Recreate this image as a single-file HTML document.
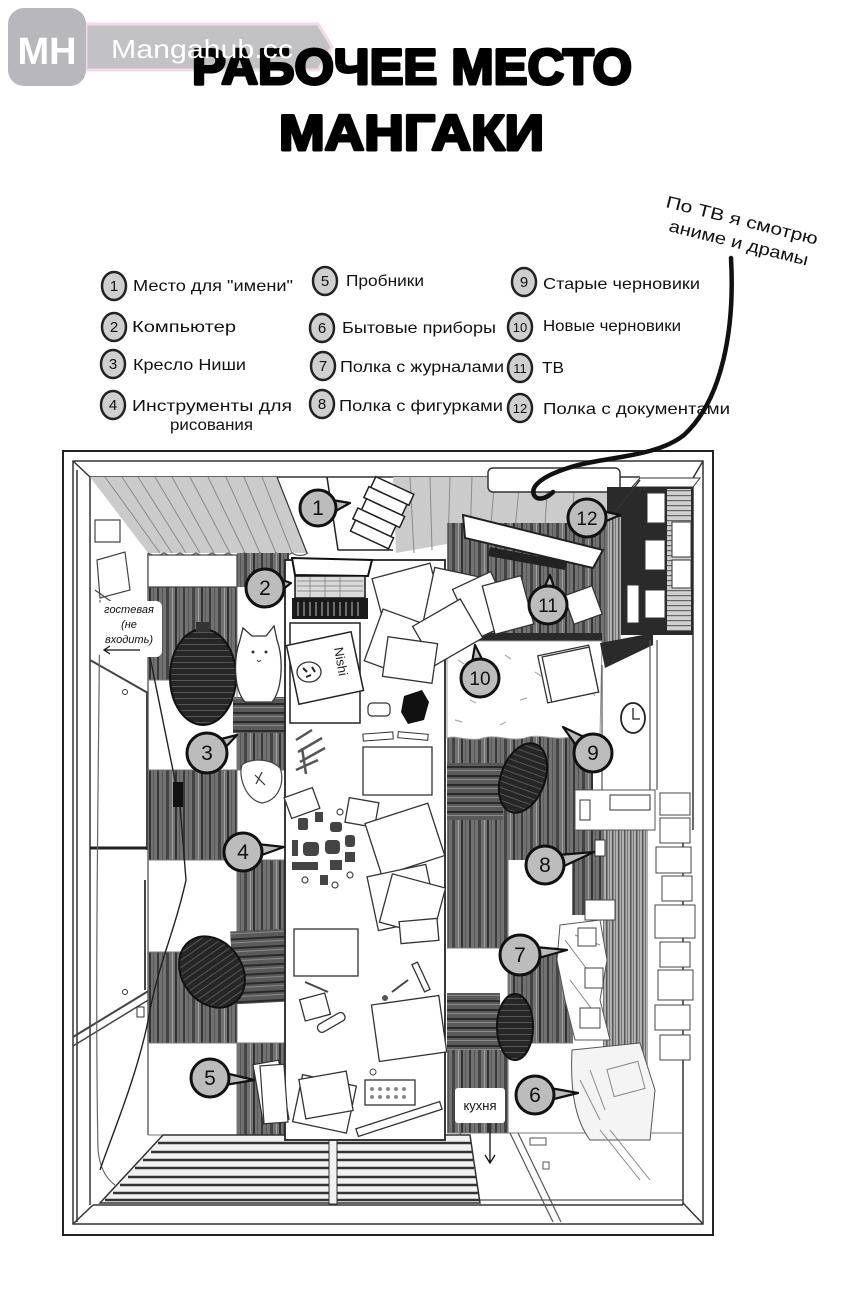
<!DOCTYPE html>
<html><head><meta charset="utf-8"><style>html,body{margin:0;padding:0;background:#fff}svg{display:block}</style></head>
<body>
<svg width="850" height="1311" viewBox="0 0 850 1311" xmlns="http://www.w3.org/2000/svg" font-family="'Liberation Sans', sans-serif">
<defs>
<pattern id="wood" width="26" height="60" patternUnits="userSpaceOnUse">
<rect width="26" height="60" fill="#727272"/>
<rect x="1" width="2" height="60" fill="#3a3a3a"/>
<rect x="6" width="1" height="60" fill="#555"/>
<rect x="10" width="3" height="60" fill="#444"/>
<rect x="16" width="1" height="60" fill="#a0a0a0"/>
<rect x="19" width="2" height="60" fill="#333"/>
<rect x="23" width="1" height="60" fill="#5a5a5a"/>
</pattern>
<pattern id="hwood" width="40" height="9" patternUnits="userSpaceOnUse">
<rect width="40" height="9" fill="#5a5a5a"/>
<rect y="1" width="40" height="2" fill="#2a2a2a"/>
<rect y="5" width="40" height="1" fill="#888"/>
</pattern>
<pattern id="dark" width="30" height="6" patternUnits="userSpaceOnUse">
<rect width="30" height="6" fill="#262626"/>
<rect y="2" width="30" height="1" fill="#555"/>
</pattern>
<pattern id="vlight" width="6" height="40" patternUnits="userSpaceOnUse">
<rect width="6" height="40" fill="#b0b0b0"/>
<rect x="0" width="1.5" height="40" fill="#555"/>
<rect x="3" width="1" height="40" fill="#777"/>
</pattern>
<pattern id="hlight" width="30" height="5" patternUnits="userSpaceOnUse">
<rect width="30" height="5" fill="#d0d0d0"/>
<rect y="0" width="30" height="1.2" fill="#666"/>
</pattern>
</defs>

<!-- watermark banner -->
<polygon points="86,24 318,24 332,47 318,70 86,70" fill="#c2c2c4" stroke="#f2d8ea" stroke-width="3"/>

<!-- title -->
<g fill="#000" stroke="#000" stroke-width="3" stroke-linejoin="round" font-weight="bold">
<text x="192" y="84" font-size="50" textLength="440" lengthAdjust="spacingAndGlyphs">РАБОЧЕЕ МЕСТО</text>
<text x="279" y="150" font-size="50" textLength="265" lengthAdjust="spacingAndGlyphs">МАНГАКИ</text>
</g>

<!-- watermark -->
<rect x="8" y="8" width="78" height="78" rx="16" fill="#b8b8bc"/>
<text x="47" y="64" font-size="38" font-weight="bold" fill="#fff" text-anchor="middle">MH</text>
<text x="111" y="58" font-size="26" fill="#fff" font-family="'Liberation Sans Narrow','Liberation Sans',sans-serif" textLength="182" lengthAdjust="spacingAndGlyphs">Mangahub.cc</text>

<!-- legend -->
<g fill="#cfcfcf" stroke="#222" stroke-width="2.5">
<ellipse cx="114" cy="286" rx="12" ry="14"/>
<ellipse cx="114" cy="327" rx="12" ry="14"/>
<ellipse cx="113" cy="364" rx="12" ry="14"/>
<ellipse cx="113" cy="405" rx="12" ry="14"/>
<ellipse cx="325" cy="281" rx="12" ry="14"/>
<ellipse cx="322" cy="328" rx="12" ry="14"/>
<ellipse cx="323" cy="366" rx="12" ry="14"/>
<ellipse cx="322" cy="404" rx="12" ry="14"/>
<ellipse cx="524" cy="282" rx="12" ry="14"/>
<ellipse cx="520" cy="327" rx="12" ry="14"/>
<ellipse cx="520" cy="368" rx="12" ry="14"/>
<ellipse cx="520" cy="408" rx="12" ry="14"/>
</g>
<g font-size="15" fill="#111" text-anchor="middle">
<text x="114" y="291">1</text><text x="114" y="332">2</text><text x="113" y="369">3</text><text x="113" y="410">4</text>
<text x="325" y="286">5</text><text x="322" y="333">6</text><text x="323" y="371">7</text><text x="322" y="409">8</text>
<text x="524" y="287">9</text><text x="520" y="332" font-size="13">10</text><text x="520" y="373" font-size="13">11</text><text x="520" y="413" font-size="13">12</text>
</g>
<g font-size="16" fill="#111">
<text x="133" y="291" textLength="160" lengthAdjust="spacingAndGlyphs">Место для "имени"</text>
<text x="346" y="286" textLength="78" lengthAdjust="spacingAndGlyphs">Пробники</text>
<text x="543" y="289" textLength="157" lengthAdjust="spacingAndGlyphs">Старые черновики</text>
<text x="132" y="332" textLength="104" lengthAdjust="spacingAndGlyphs">Компьютер</text>
<text x="342" y="333" textLength="154" lengthAdjust="spacingAndGlyphs">Бытовые приборы</text>
<text x="543" y="331" textLength="138" lengthAdjust="spacingAndGlyphs">Новые черновики</text>
<text x="133" y="370" textLength="113" lengthAdjust="spacingAndGlyphs">Кресло Ниши</text>
<text x="340" y="372" textLength="164" lengthAdjust="spacingAndGlyphs">Полка с журналами</text>
<text x="542" y="373" textLength="22" lengthAdjust="spacingAndGlyphs">ТВ</text>
<text x="132" y="411" textLength="160" lengthAdjust="spacingAndGlyphs">Инструменты для</text>
<text x="170" y="430" textLength="83" lengthAdjust="spacingAndGlyphs">рисования</text>
<text x="339" y="411" textLength="164" lengthAdjust="spacingAndGlyphs">Полка с фигурками</text>
<text x="543" y="414" textLength="187" lengthAdjust="spacingAndGlyphs">Полка с документами</text>
</g>

<!-- annotation -->
<g font-size="17" fill="#111">
<text transform="translate(665,207) rotate(14)" textLength="156" lengthAdjust="spacingAndGlyphs">По ТВ я смотрю</text>
<text transform="translate(668,231) rotate(14)" textLength="143" lengthAdjust="spacingAndGlyphs">аниме и драмы</text>
</g>

<!-- room frame -->
<rect x="63" y="451" width="650" height="784" fill="#fff" stroke="#222" stroke-width="2"/>
<rect x="73" y="461" width="630" height="763" fill="none" stroke="#333" stroke-width="1.5"/>
<g stroke="#333" stroke-width="1.5" fill="none">
<line x1="73" y1="461" x2="90" y2="477"/>
<line x1="703" y1="461" x2="693" y2="478"/>
<line x1="73" y1="1224" x2="93" y2="1205"/>
<line x1="703" y1="1224" x2="683" y2="1203"/>
<line x1="90" y1="477" x2="640" y2="477"/>
<line x1="90" y1="477" x2="90" y2="1205"/>
<line x1="77" y1="470" x2="77" y2="1222"/>
<line x1="93" y1="1205" x2="683" y2="1205"/>
<line x1="683" y1="830" x2="683" y2="1205"/>
<line x1="693" y1="478" x2="693" y2="830"/>
</g>

<!-- curtains -->
<polygon points="90,477 277,477 307,553 148,553" fill="#cbcbcb"/>
<polygon points="393,477 610,477 610,523 470,540 396,553" fill="#cbcbcb"/>
<g stroke="#8a8a8a" stroke-width="1" fill="none">
<line x1="105" y1="477" x2="160" y2="553"/><line x1="122" y1="477" x2="172" y2="553"/>
<line x1="138" y1="477" x2="186" y2="553"/><line x1="155" y1="477" x2="200" y2="553"/>
<line x1="172" y1="477" x2="214" y2="553"/><line x1="190" y1="477" x2="230" y2="553"/>
<line x1="208" y1="477" x2="245" y2="553"/><line x1="226" y1="477" x2="260" y2="553"/>
<line x1="244" y1="477" x2="276" y2="553"/><line x1="262" y1="477" x2="292" y2="553"/>
<line x1="410" y1="477" x2="414" y2="553"/><line x1="430" y1="477" x2="432" y2="550"/>
<line x1="450" y1="477" x2="448" y2="545"/><line x1="472" y1="477" x2="470" y2="540"/>
<line x1="495" y1="477" x2="490" y2="535"/><line x1="520" y1="477" x2="515" y2="530"/>
<line x1="548" y1="477" x2="545" y2="525"/><line x1="575" y1="477" x2="572" y2="523"/>
</g>
<path d="M148,553 q8,5 16,0 q8,5 16,0 q8,5 16,0 q8,5 16,0 q8,5 16,0 q8,5 16,0 q8,5 16,0 q8,5 16,0 q8,5 16,0 q8,5 16,0" stroke="#555" stroke-width="1.2" fill="none"/>
<line x1="277" y1="477" x2="307" y2="553" stroke="#333" stroke-width="1.2"/>
<!-- window frame & stack 1 -->
<g stroke="#222" stroke-width="1.5" fill="#fff">
<line x1="327" y1="477" x2="338" y2="550"/>
<line x1="338" y1="550" x2="393" y2="550"/>
<g transform="rotate(25 380 515)">
<rect x="360" y="482" width="42" height="12"/><rect x="358" y="494" width="42" height="12"/>
<rect x="361" y="506" width="42" height="12"/><rect x="357" y="518" width="42" height="12"/>
<rect x="360" y="530" width="42" height="12"/>
</g>
</g>
<!-- AC unit -->
<rect x="488" y="468" width="132" height="24" rx="5" fill="#fff" stroke="#333" stroke-width="1.5"/>

<!-- left wall -->
<g stroke="#444" stroke-width="1.2" fill="none">
<rect x="95" y="520" width="25" height="22"/>
<polygon points="97,560 125,552 130,590 100,598"/>
<line x1="95" y1="590" x2="130" y2="615"/>
<line x1="148" y1="553" x2="148" y2="1135"/>
<line x1="90" y1="660" x2="148" y2="693" stroke-width="2"/>
<line x1="147" y1="693" x2="147" y2="850" stroke-width="2"/>
<line x1="90" y1="848" x2="147" y2="848" stroke-width="3" stroke="#222"/>
<line x1="145" y1="880" x2="145" y2="990" stroke-width="2"/>
<line x1="73" y1="1037" x2="150" y2="990" stroke-width="2"/>
<line x1="73" y1="1046" x2="150" y2="999" stroke-width="1.5"/>
<path d="M100,600 C98,800 95,1000 98,1150 C100,1170 108,1180 115,1185" stroke="#666"/>
</g>
<circle cx="125" cy="692" r="2.5" fill="none" stroke="#333"/>
<circle cx="125" cy="992" r="2.5" fill="none" stroke="#333"/>
<rect x="137" y="1007" width="7" height="10" fill="#fff" stroke="#333"/>

<!-- floor tiles left -->
<g fill="url(#wood)">
<rect x="237" y="553" width="52" height="34"/>
<rect x="148" y="587" width="89" height="93"/>
<rect x="237" y="733" width="48" height="37"/>
<rect x="148" y="770" width="89" height="90"/>
<rect x="237" y="860" width="48" height="90"/>
<rect x="148" y="952" width="89" height="91"/>
<rect x="237" y="1043" width="48" height="92"/>
</g>
<rect x="148" y="555" width="89" height="32" fill="#fff" stroke="#444" stroke-width="1.2"/>
<g stroke="#777" stroke-width="1" fill="none">
<line x1="148" y1="680" x2="237" y2="680"/><line x1="148" y1="770" x2="285" y2="770"/>
<line x1="148" y1="860" x2="285" y2="860"/><line x1="148" y1="952" x2="285" y2="952"/>
<line x1="148" y1="1043" x2="285" y2="1043"/><line x1="148" y1="1135" x2="285" y2="1135"/>
<line x1="237" y1="587" x2="237" y2="1135"/>
</g>
<!-- cable & plug -->
<path d="M150,657 L180,805 L186,880 C175,930 160,960 150,1010 C140,1070 110,1140 100,1170" stroke="#222" stroke-width="1.4" fill="none"/>
<rect x="173" y="782" width="10" height="25" fill="#111"/>

<!-- guest label (on top of tiles) -->
<rect x="98" y="601" width="64" height="56" rx="6" fill="#fff"/>
<g font-size="11" fill="#111" text-anchor="middle" font-style="italic">
<text x="129" y="613">гостевая</text>
<text x="129" y="628">(не</text>
<text x="129" y="643">входить)</text>
</g>
<path d="M140,650 L105,650 M110,646 L104,650 L110,654" stroke="#111" stroke-width="1.2" fill="none"/>

<!-- chair 3 -->
<ellipse cx="203" cy="677" rx="33" ry="48" fill="url(#dark)" stroke="#111" stroke-width="2"/>
<rect x="196" y="622" width="14" height="10" fill="#333"/>
<rect x="233" y="697" width="52" height="36" fill="url(#hwood)"/>
<!-- cat -->
<path d="M240,640 L243,628 L252,636 L266,636 L274,626 L277,640 C284,660 282,690 272,702 L245,702 C234,690 233,660 240,640 Z" fill="#fff" stroke="#333" stroke-width="1.3"/>
<circle cx="253" cy="652" r="1.5" fill="#333"/><circle cx="266" cy="652" r="1.5" fill="#333"/>
<path d="M257,660 q2,3 4,0" stroke="#333" fill="none"/>
<!-- cushion -->
<path d="M242,765 C238,775 245,800 262,803 C280,800 285,780 280,768 C270,758 250,758 242,765 Z" fill="#fff" stroke="#444" stroke-width="1.2"/>
<path d="M255,775 l10,10 M262,772 l-6,12" stroke="#333" stroke-width="1.2"/>

<!-- chair 5 -->
<rect x="232" y="930" width="55" height="73" fill="url(#hwood)" transform="rotate(-3 260 966)"/>
<ellipse cx="212" cy="972" rx="30" ry="38" transform="rotate(-35 212 972)" fill="url(#dark)" stroke="#111" stroke-width="2"/>

<!-- right side floor -->
<rect x="447" y="523" width="160" height="120" fill="url(#wood)"/>
<rect x="447" y="737" width="146" height="123" fill="url(#wood)"/>
<rect x="447" y="860" width="61" height="88" fill="url(#wood)"/>
<rect x="508" y="948" width="65" height="95" fill="url(#wood)"/>
<rect x="447" y="1050" width="61" height="83" fill="url(#wood)"/>
<g stroke="#777" stroke-width="1" fill="none">
<line x1="447" y1="948" x2="573" y2="948"/><line x1="447" y1="1043" x2="573" y2="1043"/>
<line x1="447" y1="1133" x2="683" y2="1133"/><line x1="508" y1="860" x2="508" y2="1133"/>
</g>
<rect x="447" y="633" width="155" height="8" fill="#2a2a2a"/>
<!-- TV -->
<polygon points="490,547 567,562 565,570 488,556" fill="#222"/>
<polygon points="463,515 603,550 593,568 465,538" fill="#fff" stroke="#222" stroke-width="2"/>
<!-- rug -->
<path d="M447,641 L602,641 L600,735 C590,738 580,732 570,737 C555,741 540,733 525,738 C510,742 495,733 480,739 C465,741 455,735 447,738 Z" fill="#fff" stroke="#999" stroke-width="1"/>
<g stroke="#aaa" stroke-width="1.2">
<line x1="458" y1="660" x2="464" y2="664"/><line x1="470" y1="700" x2="476" y2="703"/>
<line x1="505" y1="655" x2="511" y2="659"/><line x1="520" y1="700" x2="527" y2="698"/>
<line x1="455" y1="720" x2="462" y2="722"/><line x1="535" y1="672" x2="541" y2="676"/>
<line x1="590" y1="690" x2="595" y2="696"/><line x1="500" y1="725" x2="506" y2="722"/>
</g>
<g transform="rotate(-12 568 673)" fill="#fff" stroke="#333" stroke-width="1.3">
<rect x="542" y="650" width="52" height="48"/><rect x="546" y="652" width="48" height="46"/>
</g>
<!-- chair right middle -->
<rect x="447" y="763" width="56" height="57" fill="url(#hwood)"/>
<ellipse cx="523" cy="778" rx="22" ry="36" transform="rotate(20 523 778)" fill="url(#dark)" stroke="#111" stroke-width="2"/>
<!-- chair right lower -->
<rect x="447" y="993" width="53" height="57" fill="url(#hwood)"/>
<ellipse cx="515" cy="1027" rx="18" ry="33" fill="url(#dark)" stroke="#111" stroke-width="2"/>

<!-- shelf 12 -->
<polygon points="640,478 700,478 693,487 632,487" fill="#fff" stroke="#333"/>
<rect x="607" y="487" width="86" height="148" fill="#2a2a2a"/>
<rect x="667" y="489" width="24" height="142" fill="url(#hlight)"/>
<g fill="#fff" stroke="#333" stroke-width="1">
<rect x="647" y="493" width="18" height="30"/><rect x="645" y="540" width="20" height="30"/>
<rect x="645" y="590" width="20" height="28"/><rect x="672" y="522" width="19" height="35"/>
<rect x="672" y="560" width="19" height="28"/><rect x="627" y="585" width="12" height="38"/>
</g>
<rect x="607" y="517" width="14" height="130" fill="url(#vlight)"/>
<polygon points="600,643 653,633 653,645 605,668" fill="#2a2a2a"/>
<line x1="640" y1="480" x2="610" y2="518" stroke="#333" stroke-width="1.5"/>
<!-- right wall -->
<g stroke="#555" stroke-width="1.2">
<line x1="602" y1="665" x2="602" y2="790"/>
<line x1="650" y1="640" x2="650" y2="790"/>
<line x1="657" y1="640" x2="657" y2="790"/>
</g>
<ellipse cx="633" cy="718" rx="12" ry="15" fill="#fff" stroke="#222" stroke-width="1.8"/>
<path d="M633,708 L633,719 L640,719" stroke="#222" stroke-width="1.3" fill="none"/>
<!-- shelf 8/7 -->
<rect x="572" y="790" width="38" height="125" fill="url(#wood)"/>
<rect x="603" y="828" width="45" height="237" fill="url(#vlight)"/>
<rect x="575" y="790" width="80" height="40" fill="#fff" stroke="#555"/>
<g fill="#fff" stroke="#444" stroke-width="1">
<rect x="660" y="793" width="30" height="22"/><rect x="660" y="818" width="30" height="25"/>
<rect x="656" y="847" width="35" height="26"/><rect x="662" y="876" width="30" height="25"/>
<rect x="655" y="905" width="40" height="33"/><rect x="660" y="942" width="30" height="25"/>
<rect x="658" y="970" width="35" height="30"/><rect x="655" y="1005" width="35" height="25"/>
<rect x="660" y="1035" width="30" height="25"/>
<rect x="585" y="900" width="30" height="20"/>
</g>
<g stroke="#333" stroke-width="1" fill="#fff">
<rect x="580" y="800" width="10" height="20"/><rect x="595" y="840" width="10" height="16"/>
<rect x="610" y="795" width="40" height="15"/>
</g>
<!-- item 7 magazines -->
<path d="M560,925 L600,920 L607,960 L600,1000 L610,1040 L575,1040 L565,1000 L557,960 Z" fill="#fff" stroke="#555"/>
<g stroke="#888" stroke-width="1"><line x1="565" y1="940" x2="595" y2="980"/><line x1="570" y1="980" x2="600" y2="1020"/><line x1="575" y1="935" x2="600" y2="945"/></g>
<g fill="#fff" stroke="#444"><rect x="578" y="928" width="18" height="18"/><rect x="585" y="968" width="18" height="20"/><rect x="580" y="1008" width="20" height="20"/></g>
<!-- item 6 -->
<path d="M572,1050 L640,1043 L655,1090 L650,1140 L590,1140 C575,1120 570,1090 572,1050 Z" fill="#f4f4f4" stroke="#555"/>
<g fill="none" stroke="#888" stroke-width="1">
<rect x="610" y="1065" width="32" height="28" transform="rotate(-15 626 1079)"/>
<line x1="580" y1="1080" x2="600" y2="1120"/><line x1="590" y1="1070" x2="605" y2="1110"/>
<line x1="600" y1="1130" x2="640" y2="1180"/><line x1="610" y1="1130" x2="650" y2="1180"/>
</g>
<!-- kitchen floor -->
<g stroke="#555" stroke-width="1.2" fill="none">
<line x1="460" y1="1133" x2="480" y2="1203"/>
<line x1="510" y1="1133" x2="553" y2="1222"/>
<line x1="518" y1="1133" x2="561" y2="1222"/>
<line x1="480" y1="1200" x2="683" y2="1200"/>
</g>
<rect x="530" y="1138" width="16" height="7" fill="none" stroke="#555"/>
<rect x="543" y="1162" width="6" height="7" fill="none" stroke="#555"/>

<!-- slats -->
<polygon points="163,1135 470,1135 480,1203 100,1203" fill="#f2f2f2" stroke="#333" stroke-width="1.5"/>
<g stroke="#333" stroke-width="2.5">
<line x1="158" y1="1143" x2="471" y2="1143"/><line x1="151" y1="1152" x2="472" y2="1152"/>
<line x1="143" y1="1160" x2="473" y2="1160"/><line x1="135" y1="1168" x2="474" y2="1168"/>
<line x1="128" y1="1177" x2="476" y2="1177"/><line x1="120" y1="1185" x2="477" y2="1185"/>
<line x1="113" y1="1193" x2="478" y2="1193"/><line x1="105" y1="1200" x2="479" y2="1200"/>
</g>
<rect x="329" y="1136" width="8" height="68" fill="#f2f2f2" stroke="#333" stroke-width="1"/>

<!-- table -->
<rect x="285" y="560" width="160" height="580" fill="#fff" stroke="#222" stroke-width="1.8"/>
<!-- laptop -->
<polygon points="292,558 372,560 368,576 295,575" fill="#fff" stroke="#111" stroke-width="2"/>
<rect x="295" y="576" width="70" height="22" fill="#d9d9d9" stroke="#111" stroke-width="1.5"/>
<g stroke="#777" stroke-width="0.7"><line x1="297" y1="581" x2="363" y2="581"/><line x1="297" y1="586" x2="363" y2="586"/><line x1="297" y1="591" x2="363" y2="591"/><line x1="310" y1="577" x2="310" y2="597"/><line x1="325" y1="577" x2="325" y2="597"/><line x1="340" y1="577" x2="340" y2="597"/></g>
<rect x="292" y="598" width="76" height="21" fill="#1a1a1a"/>
<g stroke="#888" stroke-width="1.5"><line x1="298" y1="602" x2="298" y2="616"/><line x1="304" y1="602" x2="304" y2="616"/><line x1="310" y1="602" x2="310" y2="616"/><line x1="316" y1="602" x2="316" y2="616"/><line x1="322" y1="602" x2="322" y2="616"/><line x1="328" y1="602" x2="328" y2="616"/><line x1="334" y1="602" x2="334" y2="616"/><line x1="340" y1="602" x2="340" y2="616"/><line x1="346" y1="602" x2="346" y2="616"/><line x1="352" y1="602" x2="352" y2="616"/><line x1="358" y1="602" x2="358" y2="616"/></g>
<!-- sketchbook -->
<rect x="290" y="623" width="70" height="100" fill="#fff" stroke="#222" stroke-width="1.5"/>
<g transform="rotate(-12 325 668)"><rect x="292" y="638" width="66" height="60" fill="#fff" stroke="#222" stroke-width="1.5"/></g>
<ellipse cx="309" cy="672" rx="12" ry="10" fill="#fff" stroke="#333" stroke-width="1.3"/>
<path d="M303,668 l4,4 M312,667 l3,5 M306,677 l5,-2" stroke="#222" stroke-width="2"/>
<text transform="translate(334,648) rotate(80)" font-size="13" fill="#222">Nishi</text>
<!-- papers top -->
<g fill="#fff" stroke="#333" stroke-width="1.3">
<rect x="378" y="570" width="60" height="55" transform="rotate(-15 408 597)"/>
<rect x="428" y="572" width="50" height="60" transform="rotate(12 453 602)"/>
<rect x="462" y="578" width="42" height="55" transform="rotate(-25 483 605)"/>
<rect x="488" y="580" width="40" height="50" transform="rotate(-15 508 605)"/>
<rect x="372" y="618" width="62" height="55" transform="rotate(20 403 645)"/>
<rect x="420" y="610" width="55" height="45" transform="rotate(-30 447 632)"/>
<rect x="568" y="590" width="30" height="30" transform="rotate(-20 583 605)"/>
<rect x="385" y="640" width="50" height="40" transform="rotate(8 410 660)"/>
</g>
<polygon points="404,696 422,690 429,702 424,720 408,724 401,712" fill="#111"/>
<rect x="368" y="703" width="22" height="13" rx="4" fill="#fff" stroke="#333" stroke-width="1.2"/>
<rect x="363" y="733" width="30" height="7" fill="#fff" stroke="#333" transform="rotate(-4 378 736)"/>
<rect x="398" y="733" width="30" height="6" fill="#fff" stroke="#333" transform="rotate(5 413 736)"/>
<rect x="363" y="747" width="69" height="48" fill="#fff" stroke="#333" stroke-width="1.3"/>
<!-- pencils -->
<g stroke="#555" stroke-width="2.5">
<line x1="296" y1="740" x2="312" y2="730"/><line x1="298" y1="752" x2="322" y2="738"/>
<line x1="300" y1="762" x2="325" y2="748"/><line x1="296" y1="770" x2="318" y2="760"/>
<line x1="302" y1="748" x2="306" y2="774"/>
</g>
<g fill="#fff" stroke="#333" stroke-width="1.3">
<rect x="287" y="792" width="30" height="22" transform="rotate(-20 302 803)"/>
<rect x="347" y="800" width="30" height="25" transform="rotate(10 362 812)"/>
<rect x="372" y="812" width="66" height="55" transform="rotate(-18 405 840)"/>
<rect x="372" y="870" width="60" height="55" transform="rotate(-12 402 897)"/>
<rect x="385" y="880" width="55" height="50" transform="rotate(15 412 905)"/>
<rect x="400" y="920" width="38" height="22" transform="rotate(-5 419 931)"/>
</g>
<!-- clutter -->
<g fill="#444">
<rect x="298" y="818" width="10" height="12" rx="2"/><rect x="315" y="812" width="8" height="10"/>
<rect x="330" y="822" width="12" height="10" rx="3"/><rect x="292" y="840" width="6" height="16"/>
<rect x="303" y="842" width="16" height="14" rx="4"/><rect x="325" y="840" width="15" height="14" rx="4"/>
<rect x="345" y="835" width="10" height="12" rx="3"/><rect x="292" y="862" width="26" height="8"/>
<rect x="330" y="860" width="12" height="10"/><rect x="345" y="852" width="10" height="10"/>
<rect x="320" y="875" width="8" height="10"/>
</g>
<g fill="none" stroke="#444" stroke-width="1.2"><circle cx="340" cy="812" r="3"/><circle cx="305" cy="880" r="3"/><circle cx="335" cy="885" r="3"/><circle cx="350" cy="875" r="3"/></g>
<!-- lower table items -->
<g fill="#fff" stroke="#333" stroke-width="1.3">
<rect x="294" y="929" width="64" height="47"/>
<rect x="302" y="996" width="26" height="22" transform="rotate(-15 315 1007)"/>
<rect x="316" y="1018" width="30" height="9" rx="4" transform="rotate(-30 331 1022)"/>
<rect x="375" y="1000" width="68" height="57" transform="rotate(-8 409 1028)"/>
<rect x="418" y="962" width="6" height="30" transform="rotate(-25 421 977)"/>
<rect x="297" y="1080" width="55" height="48" transform="rotate(12 325 1104)"/>
<rect x="302" y="1075" width="48" height="40" transform="rotate(-10 326 1095)"/>
<rect x="355" y="1115" width="88" height="8" transform="rotate(-18 399 1119)"/>
<rect x="365" y="1080" width="50" height="25"/>
</g>
<line x1="305" y1="982" x2="328" y2="992" stroke="#444" stroke-width="2"/>
<line x1="392" y1="992" x2="408" y2="980" stroke="#444" stroke-width="2"/>
<circle cx="385" cy="998" r="3" fill="#555"/>
<circle cx="373" cy="1072" r="3" fill="none" stroke="#444"/>
<g fill="#888"><circle cx="372" cy="1089" r="2"/><circle cx="380" cy="1089" r="2"/><circle cx="388" cy="1089" r="2"/><circle cx="396" cy="1089" r="2"/><circle cx="404" cy="1089" r="2"/><circle cx="372" cy="1097" r="2"/><circle cx="380" cy="1097" r="2"/><circle cx="388" cy="1097" r="2"/><circle cx="396" cy="1097" r="2"/><circle cx="404" cy="1097" r="2"/></g>
<!-- item 5 fanned books -->
<g fill="#fff" stroke="#333" stroke-width="1.2">
<rect x="258" y="1062" width="26" height="60" transform="rotate(-10 271 1092)"/>
<rect x="262" y="1065" width="24" height="58" transform="rotate(-4 274 1094)"/>
</g>

<!-- kitchen label -->
<rect x="455" y="1088" width="50" height="35" rx="3" fill="#fff"/>
<text x="480" y="1110" font-size="13" fill="#111" text-anchor="middle">кухня</text>
<path d="M490,1123 L490,1163 M485,1155 L490,1163 L495,1155" stroke="#111" stroke-width="1.3" fill="none"/>

<!-- callouts -->
<g fill="#bcbcbc" stroke="#111" stroke-width="2.2" stroke-linejoin="round">
<polygon points="332,500 350,503 334,512"/>
<polygon points="279,579 291,583 281,591"/>
<polygon points="217,740 237,735 223,750"/>
<polygon points="257,844 284,847 259,856"/>
<polygon points="225,1073 254,1080 225,1085"/>
<polygon points="550,1088 578,1093 550,1100"/>
<polygon points="535,947 567,950 535,959"/>
<polygon points="558,855 594,852 562,867"/>
<polygon points="586,738 563,727 578,748"/>
<polygon points="472,663 475,645 484,663"/>
<polygon points="543,590 550,575 555,590"/>
<polygon points="602,511 620,515 602,523"/>
</g>
<g fill="#bcbcbc" stroke="#111" stroke-width="3">
<circle cx="318" cy="508" r="18"/><circle cx="265" cy="588" r="19"/><circle cx="207" cy="753" r="20"/>
<circle cx="243" cy="852" r="19"/><circle cx="210" cy="1078" r="19"/><circle cx="535" cy="1095" r="19"/>
<circle cx="520" cy="955" r="20"/><circle cx="545" cy="865" r="19"/><circle cx="593" cy="753" r="19"/>
<circle cx="480" cy="678" r="19"/><circle cx="548" cy="605" r="19"/><circle cx="587" cy="518" r="19"/>
</g>
<g font-size="21" fill="#111" text-anchor="middle">
<text x="318" y="515">1</text><text x="265" y="595">2</text><text x="207" y="760">3</text>
<text x="243" y="859">4</text><text x="210" y="1085">5</text><text x="535" y="1102">6</text>
<text x="520" y="962">7</text><text x="545" y="872">8</text><text x="593" y="760">9</text>
<text x="480" y="685" font-size="19">10</text><text x="548" y="612" font-size="19">11</text><text x="587" y="525" font-size="19">12</text>
</g>

<!-- annotation curve -->
<path d="M731,258 C735,330 722,400 684,435 C655,458 605,456 568,468 C543,476 530,486 534,495 C537,501 546,499 553,492" stroke="#111" stroke-width="4.5" fill="none" stroke-linecap="round"/>
</svg>
</body></html>
